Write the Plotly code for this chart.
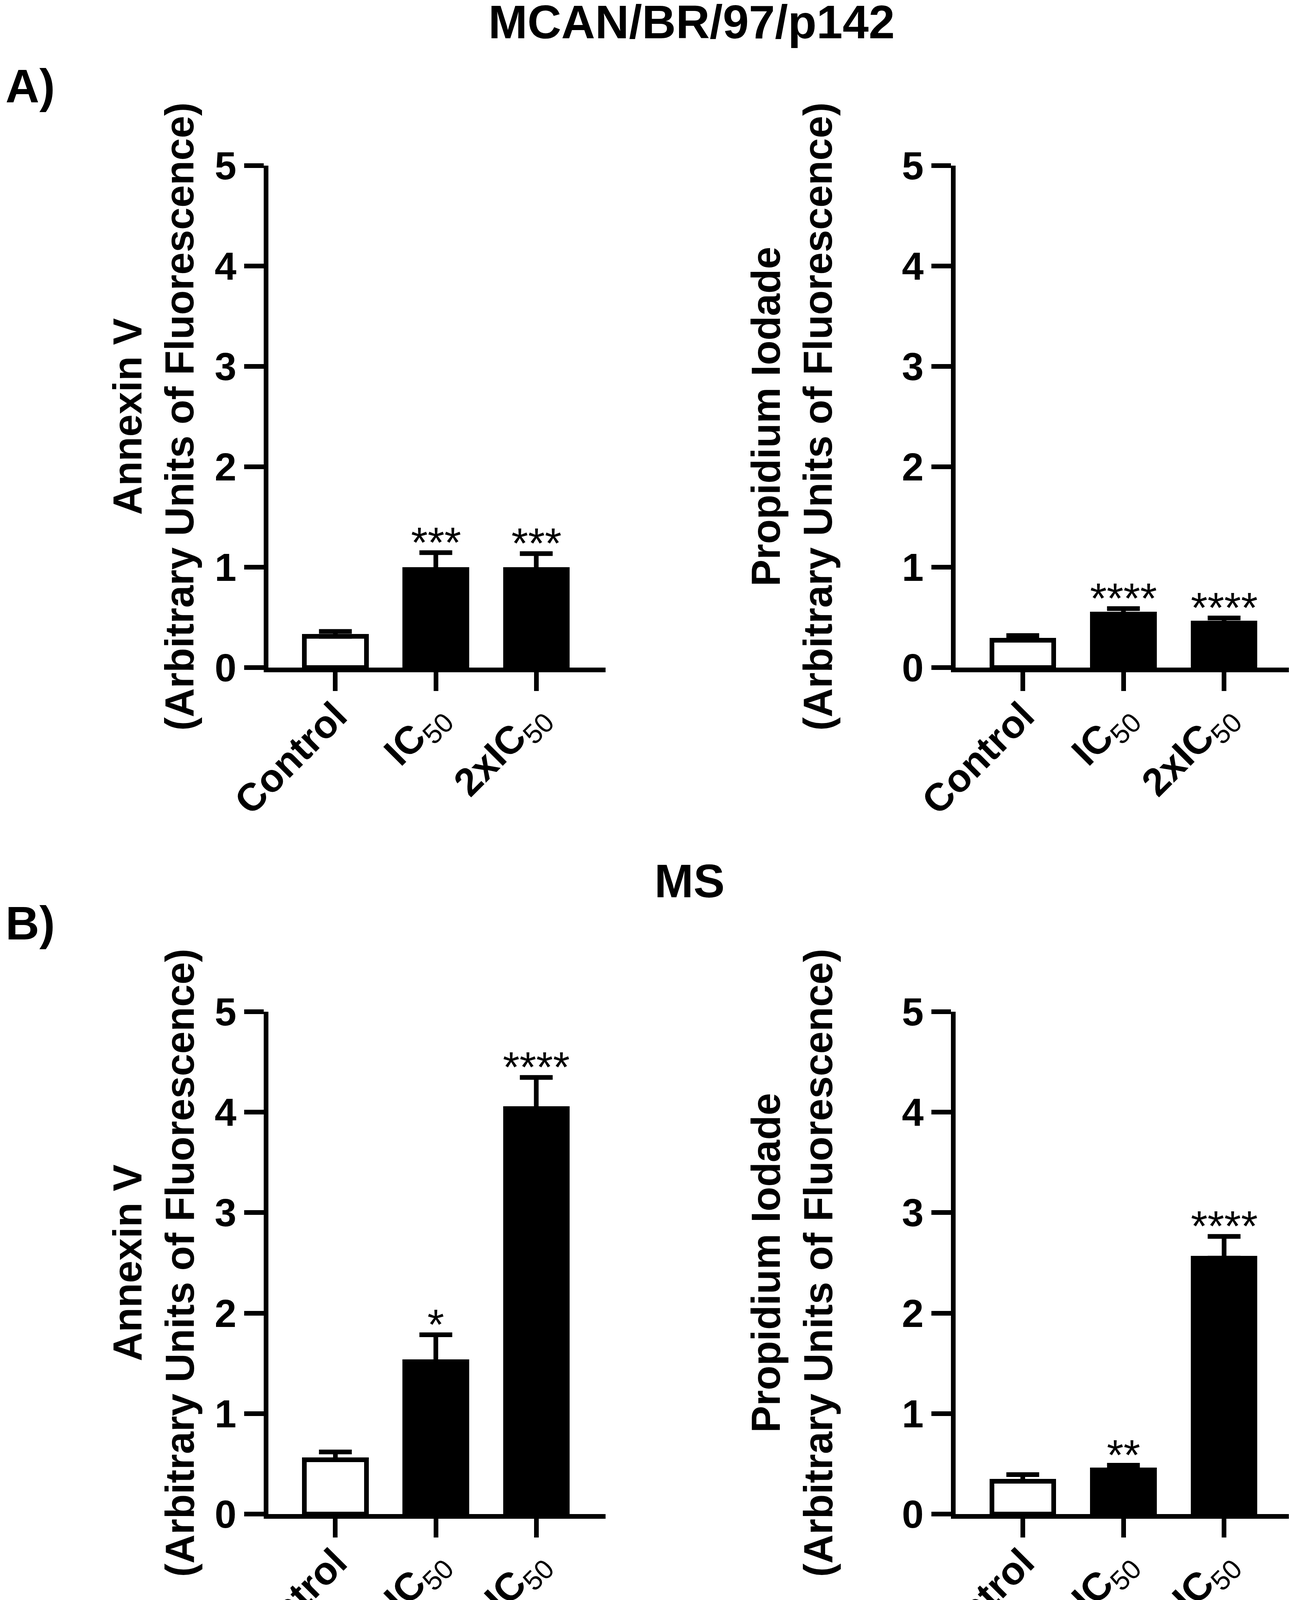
import plotly.graph_objects as go
from plotly.subplots import make_subplots

W, H = 3307, 4242

categories = ["Control", "IC50", "2xIC50"]
tick_text = ["<b>Control</b>", "<b>IC</b><sub>50</sub>", "<b>2xIC</b><sub>50</sub>"]

# mean and SEM (arbitrary units of fluorescence)
a_annexin_mean = [0.31, 0.975, 0.975]
a_annexin_sem = [0.05, 0.17, 0.16]
a_pi_mean = [0.273, 0.533, 0.444]
a_pi_sem = [0.046, 0.055, 0.05]
b_annexin_mean = [0.54, 1.515, 4.036]
b_annexin_sem = [0.078, 0.27, 0.31]
b_pi_mean = [0.327, 0.44, 2.548]
b_pi_sem = [0.066, 0.046, 0.215]

a_annexin_stars = ["", "***", "***"]
a_pi_stars = ["", "****", "****"]
b_annexin_stars = ["", "*", "****"]
b_pi_stars = ["", "**", "****"]

bar_colors = ["white", "black", "black"]

FONT = "Arial, Liberation Sans, sans-serif"
LW = 12


def px_x(p):
    return p / W


def px_y(p):
    return 1 - p / H


# plot areas in page pixels: (left, right), (top, bottom)
X_LEFT = (679, 1542)
X_RIGHT = (2438, 3303)
Y_TOP = (416, 1701)
Y_BOT = (2582, 3868)

fig = make_subplots(rows=2, cols=2)

panels = [
    (1, 1, a_annexin_mean, a_annexin_sem, a_annexin_stars, X_LEFT, Y_TOP),
    (1, 2, a_pi_mean, a_pi_sem, a_pi_stars, X_RIGHT, Y_TOP),
    (2, 1, b_annexin_mean, b_annexin_sem, b_annexin_stars, X_LEFT, Y_BOT),
    (2, 2, b_pi_mean, b_pi_sem, b_pi_stars, X_RIGHT, Y_BOT),
]

for row, col, mean, sem, stars, xd, yd in panels:
    fig.add_trace(go.Bar(
        x=categories, y=mean, width=0.615,
        marker=dict(color=bar_colors, line=dict(color="black", width=LW)),
        error_y=dict(type="data", array=sem, arrayminus=[0] * len(sem), symmetric=False,
                     color="black", thickness=LW, width=42),
        showlegend=False, hoverinfo="skip",
    ), row=row, col=col)
    # significance stars sit just above the SEM cap
    for cat, m, s, st in zip(categories, mean, sem, stars):
        if st:
            fig.add_annotation(x=cat, y=m + s, text=st, showarrow=False,
                               yanchor="bottom", yshift=-36,
                               font=dict(family=FONT, size=110, color="black"),
                               row=row, col=col)
    fig.update_xaxes(domain=[px_x(xd[0]), px_x(xd[1])], range=[-0.667, 2.69],
                     tickvals=categories, ticktext=tick_text, tickangle=-45,
                     row=row, col=col)
    fig.update_yaxes(domain=[px_y(yd[1]), px_y(yd[0])], range=[0, 5], dtick=1,
                     row=row, col=col)

fig.update_xaxes(showgrid=False, zeroline=False, showline=True, linecolor="black",
                 linewidth=LW, ticks="outside", ticklen=48, tickwidth=LW, tickcolor="black",
                 tickfont=dict(family=FONT, size=100, color="black"), fixedrange=True,
                 automargin=False, ticklabelstandoff=-35)
fig.update_yaxes(showgrid=False, zeroline=False, showline=True, linecolor="black",
                 linewidth=LW, ticks="outside", ticklen=50, tickwidth=LW, tickcolor="black",
                 tickfont=dict(family=FONT, size=100, color="black", weight="bold"),
                 fixedrange=True, automargin=False)

# axis titles (two lines, rotated)
ytitles = [
    ("Annexin V<br>(Arbitrary Units of Fluorescence)", 385, Y_TOP),
    ("Propidium Iodade<br>(Arbitrary Units of Fluorescence)", 2019, Y_TOP),
    ("Annexin V<br>(Arbitrary Units of Fluorescence)", 385, Y_BOT),
    ("Propidium Iodade<br>(Arbitrary Units of Fluorescence)", 2019, Y_BOT),
]
for text, cx, yd in ytitles:
    fig.add_annotation(text=text, xref="paper", yref="paper",
                       x=px_x(cx), y=px_y((yd[0] + yd[1]) / 2),
                       xanchor="center", yanchor="middle", textangle=-90, showarrow=False,
                       font=dict(family=FONT, size=103, color="black", weight="bold"))

# panel titles and letters
for text, cx, cy, anchor in [
    ("MCAN/BR/97/p142", 1762, 48, "center"),
    ("MS", 1757, 2247, "center"),
    ("A)", 4, 212, "left"),
    ("B)", 4, 2355, "left"),
]:
    fig.add_annotation(text=text, xref="paper", yref="paper", x=px_x(cx), y=px_y(cy),
                       xanchor=anchor, yanchor="middle", showarrow=False,
                       font=dict(family=FONT, size=120, color="black", weight="bold"))

fig.update_layout(
    width=W, height=H, margin=dict(l=0, r=0, t=0, b=0),
    plot_bgcolor="white", paper_bgcolor="white", bargap=0,
)

fig.write_html("out.html")
